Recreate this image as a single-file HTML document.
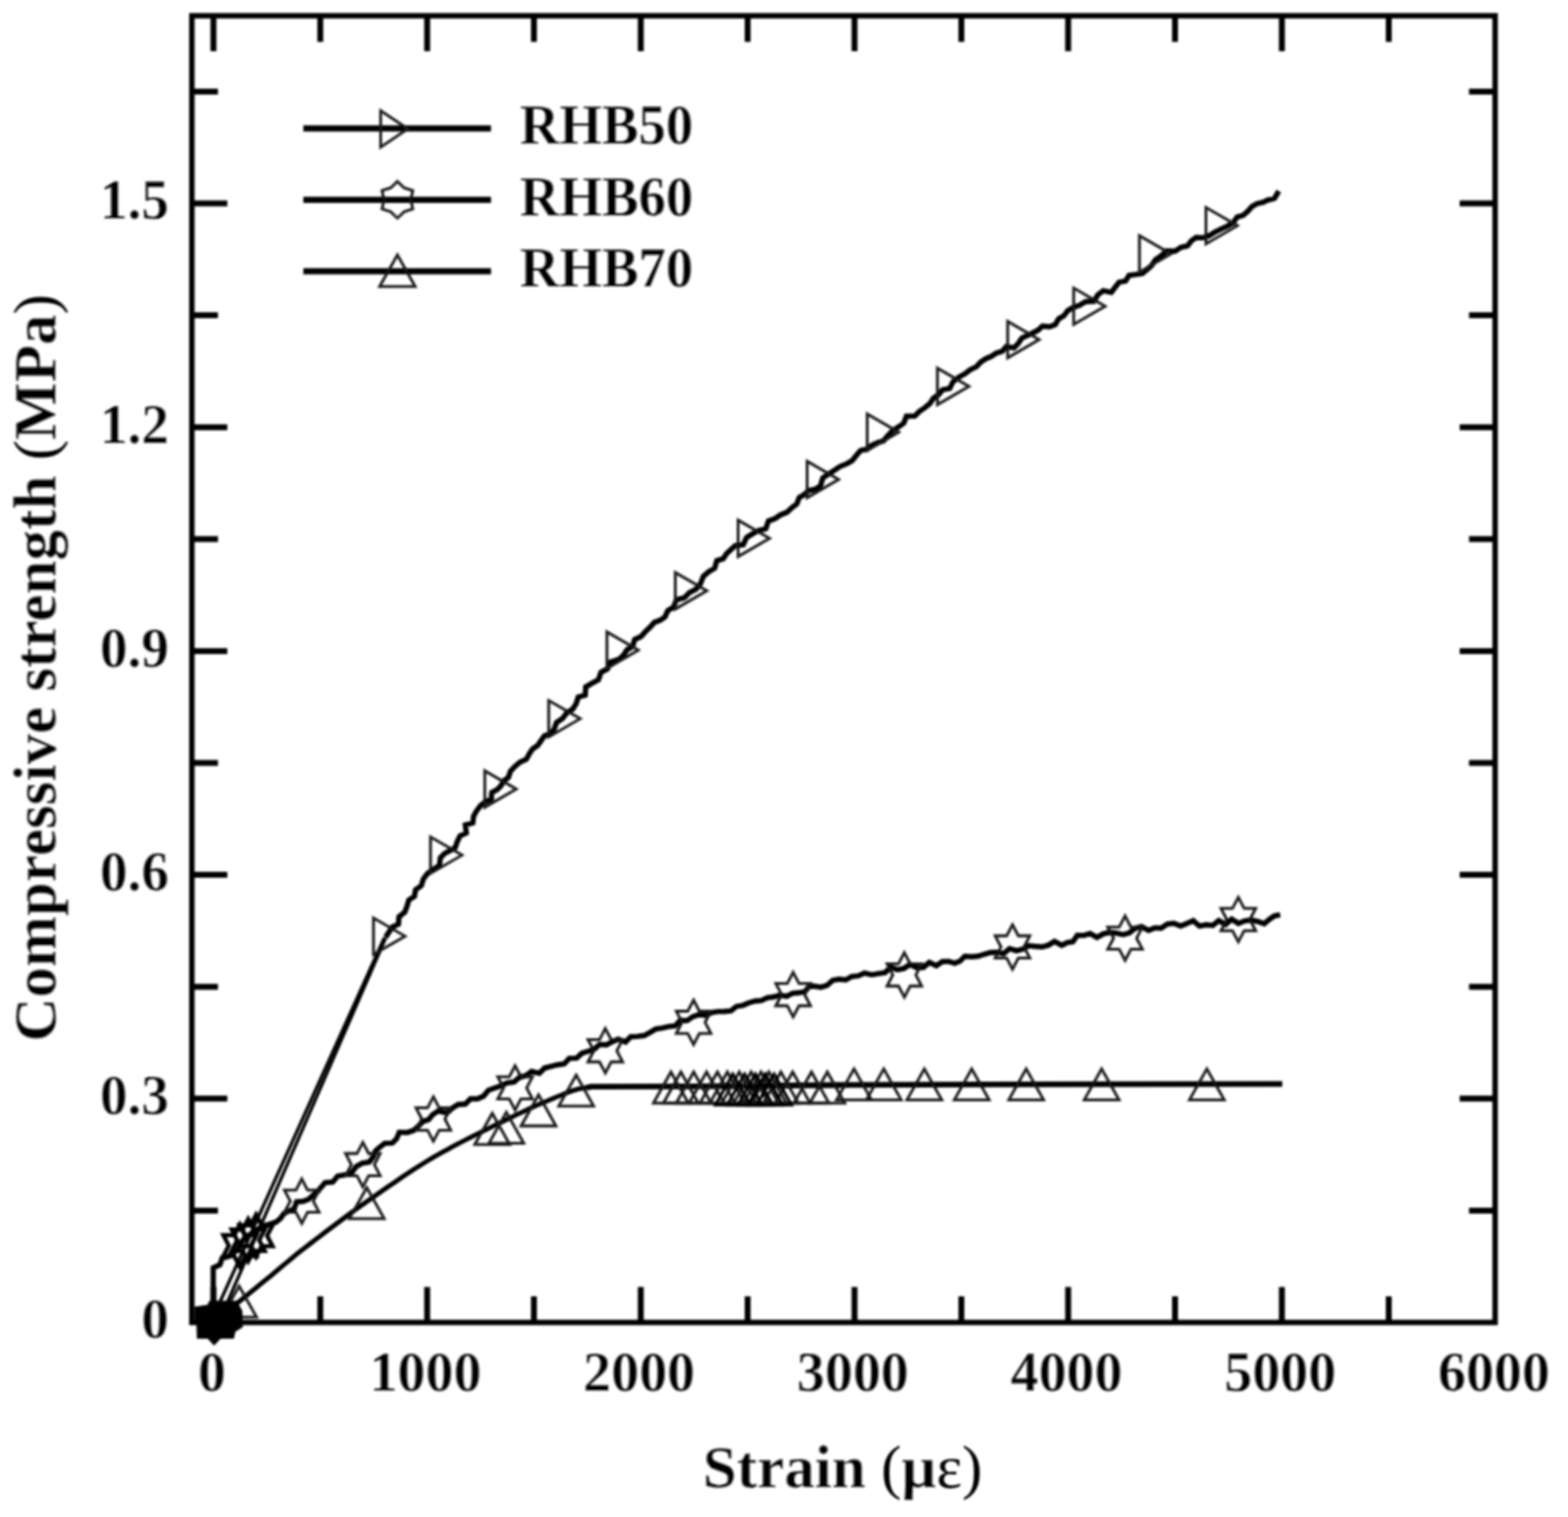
<!DOCTYPE html>
<html lang="en"><head><meta charset="utf-8"><title>Compressive strength vs strain</title>
<style>html,body{margin:0;padding:0;background:#fff}body{width:1592px;height:1540px;overflow:hidden}svg{display:block}text{font-family:"Liberation Serif","DejaVu Serif",serif;font-weight:bold;fill:#000;stroke:#fff;stroke-width:0.25px;paint-order:fill stroke}</style></head><body>
<svg width="1592" height="1540" viewBox="0 0 1592 1540">
<defs><filter id="bl" x="-2%" y="-2%" width="104%" height="104%"><feGaussianBlur stdDeviation="1.1"/></filter></defs>
<rect width="1592" height="1540" fill="#fff"/>
<g filter="url(#bl)">
<text x="527.8" y="146.2" font-size="57" textLength="176" lengthAdjust="spacingAndGlyphs">RHB50</text>
<text x="527.8" y="218.7" font-size="57" textLength="176" lengthAdjust="spacingAndGlyphs">RHB60</text>
<text x="527.8" y="291.2" font-size="57" textLength="176" lengthAdjust="spacingAndGlyphs">RHB70</text>
<text x="215.2" y="1412" font-size="56.8" text-anchor="middle">0</text>
<text x="432.0" y="1412" font-size="56.8" text-anchor="middle">1000</text>
<text x="648.9" y="1412" font-size="56.8" text-anchor="middle">2000</text>
<text x="865.9" y="1412" font-size="56.8" text-anchor="middle">3000</text>
<text x="1082.8" y="1412" font-size="56.8" text-anchor="middle">4000</text>
<text x="1299.8" y="1412" font-size="56.8" text-anchor="middle">5000</text>
<text x="1516.8" y="1412" font-size="56.8" text-anchor="middle">6000</text>
<text x="171.5" y="1358.3" font-size="56" text-anchor="end">0</text>
<text x="171.5" y="1131.1" font-size="56" text-anchor="end">0.3</text>
<text x="171.5" y="903.9" font-size="56" text-anchor="end">0.6</text>
<text x="171.5" y="676.7" font-size="56" text-anchor="end">0.9</text>
<text x="171.5" y="449.5" font-size="56" text-anchor="end">1.2</text>
<text x="171.5" y="222.3" font-size="56" text-anchor="end">1.5</text>
<text x="855.5" y="1509.5" font-size="62" text-anchor="middle">Strain <tspan font-weight="normal" stroke="none">(</tspan>µ<tspan font-weight="normal" stroke="none">ε)</tspan></text>
<text transform="translate(56.3 678) rotate(-90)" font-size="62" text-anchor="middle">Compressive strength <tspan font-weight="normal" stroke="none">(</tspan>MPa<tspan font-weight="normal" stroke="none">)</tspan></text>
<rect x="194.8" y="16.0" width="1323.2" height="1326.5" stroke="#000" stroke-width="5.5" fill="none"/>
<g stroke="#000" stroke-width="6.0" fill="none">
<path d="M216.7 1342.5 v-36.0 M216.7 16.0 v36.0"/>
<path d="M325.2 1342.5 v-26.5 M325.2 16.0 v26.5"/>
<path d="M433.7 1342.5 v-36.0 M433.7 16.0 v36.0"/>
<path d="M542.1 1342.5 v-26.5 M542.1 16.0 v26.5"/>
<path d="M650.6 1342.5 v-36.0 M650.6 16.0 v36.0"/>
<path d="M759.1 1342.5 v-26.5 M759.1 16.0 v26.5"/>
<path d="M867.6 1342.5 v-36.0 M867.6 16.0 v36.0"/>
<path d="M976.1 1342.5 v-26.5 M976.1 16.0 v26.5"/>
<path d="M1084.5 1342.5 v-36.0 M1084.5 16.0 v36.0"/>
<path d="M1193.0 1342.5 v-26.5 M1193.0 16.0 v26.5"/>
<path d="M1301.5 1342.5 v-36.0 M1301.5 16.0 v36.0"/>
<path d="M1410.0 1342.5 v-26.5 M1410.0 16.0 v26.5"/>
<path d="M194.8 1228.9 h26.5 M1518.0 1228.9 h-26.5"/>
<path d="M194.8 1115.3 h36.0 M1518.0 1115.3 h-36.0"/>
<path d="M194.8 1001.7 h26.5 M1518.0 1001.7 h-26.5"/>
<path d="M194.8 888.1 h36.0 M1518.0 888.1 h-36.0"/>
<path d="M194.8 774.5 h26.5 M1518.0 774.5 h-26.5"/>
<path d="M194.8 660.9 h36.0 M1518.0 660.9 h-36.0"/>
<path d="M194.8 547.3 h26.5 M1518.0 547.3 h-26.5"/>
<path d="M194.8 433.7 h36.0 M1518.0 433.7 h-36.0"/>
<path d="M194.8 320.1 h26.5 M1518.0 320.1 h-26.5"/>
<path d="M194.8 206.5 h36.0 M1518.0 206.5 h-36.0"/>
<path d="M194.8 92.9 h26.5 M1518.0 92.9 h-26.5"/>
</g>
<g fill="none" stroke="#000" stroke-linejoin="miter" stroke-linecap="butt">
<path stroke-width="3.3" d="M214 1342.5 L390.2 952"/>
<path stroke-width="3.3" d="M222 1342.5 L391.6 952"/>
<path stroke-width="5.4" d="M391.5 951.5 L394.9 946.3 L398.3 941.1 L404.5 938.2 L405.1 930.7 L410.9 926.1 L413.3 919.8 L415.1 913.6 L420.7 910.0 L421.9 903.3 L427.7 899.1 L429.9 892.2 L434.1 886.6 L440.0 882.4 L446.2 878.6 L447.1 870.8 L451.5 866.4 L457.1 863.5 L462.3 860.2 L464.3 854.2 L467.1 848.6 L473.4 845.7 L472.5 837.4 L480.0 835.3 L480.9 828.3 L484.0 822.9 L487.8 818.0 L492.6 814.0 L498.8 811.3 L499.4 804.5 L504.8 801.6 L508.7 797.6 L511.5 792.5 L516.2 789.2 L518.3 782.9 L522.7 778.2 L527.9 773.8 L534.4 770.8 L537.4 765.2 L540.8 760.3 L545.9 756.8 L549.3 751.9 L552.7 746.9 L559.0 744.7 L562.7 740.1 L565.0 733.6 L571.0 729.6 L575.4 723.8 L581.6 719.7 L585.1 714.1 L587.1 707.7 L594.2 705.6 L594.7 697.4 L601.0 693.6 L607.6 690.1 L610.2 682.5 L616.8 679.0 L620.0 672.0 L627.7 669.7 L633.0 665.2 L636.7 659.6 L642.3 656.2 L644.4 649.2 L650.8 646.2 L655.4 641.1 L660.2 636.5 L664.3 631.9 L670.3 629.6 L675.2 626.2 L678.0 619.9 L683.9 616.2 L686.9 608.8 L694.8 606.8 L699.9 601.6 L706.7 598.1 L711.3 592.4 L714.1 585.1 L719.5 580.5 L725.6 576.7 L727.8 569.2 L734.3 567.1 L737.7 562.0 L742.0 558.0 L746.6 553.8 L754.6 552.9 L758.0 545.6 L764.1 541.9 L770.2 538.5 L777.5 536.8 L780.2 528.9 L786.8 526.5 L792.4 522.7 L798.9 520.1 L803.8 515.5 L809.0 511.6 L811.5 505.1 L816.6 502.0 L820.9 498.0 L827.6 496.7 L833.0 493.2 L835.4 485.3 L841.0 481.4 L847.0 477.6 L852.9 473.6 L859.5 470.9 L865.2 467.7 L869.3 462.5 L873.6 457.5 L880.2 455.9 L885.1 452.1 L890.7 449.5 L896.9 447.7 L901.0 442.7 L905.9 437.6 L912.0 433.6 L917.6 429.6 L920.4 422.5 L928.8 422.3 L933.5 417.5 L939.0 413.9 L943.9 409.9 L947.7 404.3 L952.9 400.7 L957.0 395.7 L964.2 394.4 L967.7 387.4 L973.4 383.0 L979.6 379.6 L985.1 375.3 L991.3 372.4 L995.7 367.6 L1000.8 364.2 L1006.4 361.8 L1011.5 358.5 L1017.5 356.7 L1021.6 351.8 L1029.5 353.1 L1033.9 348.6 L1037.6 343.1 L1043.1 340.6 L1048.6 338.0 L1053.9 335.2 L1058.4 331.0 L1065.7 331.8 L1071.4 329.5 L1075.0 323.6 L1080.2 320.5 L1084.1 315.3 L1089.4 312.2 L1095.8 310.1 L1102.3 306.2 L1110.6 305.8 L1114.9 299.0 L1120.2 295.1 L1128.4 296.8 L1132.3 291.5 L1136.3 286.4 L1142.7 285.3 L1146.3 279.5 L1153.1 278.7 L1159.8 277.6 L1164.6 273.6 L1169.3 269.4 L1173.1 263.6 L1178.9 259.8 L1184.5 254.7 L1193.0 255.0 L1199.2 251.0 L1205.7 249.6 L1209.6 244.4 L1214.5 241.1 L1221.4 241.4 L1227.3 239.5 L1233.1 235.9 L1239.5 232.6 L1246.0 229.6 L1252.0 226.1 L1256.1 220.3 L1262.2 218.6 L1266.8 214.6 L1271.1 209.7 L1276.3 206.7 L1282.2 205.5 L1287.2 203.1 L1293.9 201.4 L1298.4 194.0"/>
<path stroke-width="5.4" d="M216.5 1342.5 L216.5 1287.0 L223.2 1283.9 L225.7 1277.1 L232.0 1275.5 L236.6 1272.2 L241.5 1268.2 L244.5 1261.4 L249.2 1256.7 L254.7 1252.7 L260.7 1248.5 L267.0 1244.4 L274.2 1242.6 L280.3 1240.5 L284.8 1236.9 L288.3 1231.8 L293.6 1229.4 L298.8 1226.8 L301.1 1220.0 L307.8 1219.5 L313.3 1217.4 L317.6 1213.5 L322.2 1210.0 L325.9 1205.4 L330.1 1200.5 L337.9 1200.0 L342.8 1193.9 L350.5 1192.7 L357.2 1190.3 L361.8 1184.1 L367.7 1180.8 L374.8 1179.7 L378.7 1174.8 L381.3 1168.3 L385.9 1164.3 L390.7 1160.6 L398.2 1160.4 L402.5 1156.2 L405.4 1149.4 L413.3 1149.7 L420.0 1147.6 L425.1 1142.9 L429.6 1138.4 L435.1 1136.6 L439.3 1131.5 L445.0 1127.8 L453.8 1129.7 L459.2 1124.9 L465.2 1121.2 L472.4 1120.8 L477.6 1115.5 L484.8 1115.5 L491.0 1112.7 L495.9 1106.8 L502.3 1104.5 L508.7 1102.2 L514.8 1099.3 L521.9 1098.4 L527.4 1093.8 L534.0 1091.9 L539.7 1087.6 L547.6 1089.6 L552.8 1084.3 L559.2 1082.7 L565.8 1081.0 L572.9 1080.0 L578.0 1074.4 L585.5 1074.2 L590.8 1069.2 L597.1 1067.2 L603.4 1065.1 L608.8 1060.2 L615.8 1060.7 L621.7 1057.5 L627.7 1054.9 L635.2 1057.9 L640.4 1052.5 L647.2 1052.1 L654.0 1051.3 L659.9 1048.1 L665.8 1044.6 L672.4 1043.7 L678.8 1042.1 L685.5 1041.5 L690.6 1035.7 L697.7 1036.1 L703.3 1032.1 L709.7 1030.0 L716.8 1030.8 L722.7 1027.8 L729.0 1026.9 L735.6 1026.8 L742.1 1026.2 L747.7 1021.7 L754.3 1020.6 L760.3 1018.0 L766.6 1016.2 L773.2 1015.7 L779.1 1012.9 L785.5 1012.0 L791.8 1010.2 L798.7 1011.4 L804.6 1008.4 L811.2 1007.8 L817.3 1006.6 L821.8 1001.1 L827.5 1001.3 L833.6 1002.2 L839.6 1000.4 L845.4 995.2 L851.9 994.0 L858.7 994.8 L864.7 991.3 L871.4 990.7 L877.7 987.9 L885.2 989.6 L891.9 988.4 L898.5 987.5 L904.2 982.0 L911.3 984.4 L917.8 983.1 L923.9 979.0 L931.0 982.5 L937.6 982.1 L943.5 976.9 L950.6 980.4 L956.7 976.2 L963.0 975.9 L969.3 977.8 L974.6 975.8 L979.6 970.7 L986.2 971.3 L992.8 970.8 L999.1 968.8 L1005.5 967.0 L1012.1 966.7 L1019.0 968.1 L1025.0 963.0 L1032.0 965.2 L1038.4 963.5 L1044.5 960.0 L1051.3 960.7 L1058.2 961.3 L1064.6 959.4 L1070.6 955.6 L1078.0 959.7 L1083.6 956.8 L1089.3 956.0 L1093.8 949.5 L1100.4 949.6 L1106.8 947.7 L1113.7 951.7 L1120.0 948.1 L1126.3 946.6 L1133.1 947.2 L1140.2 948.8 L1146.6 947.0 L1152.5 942.4 L1159.0 940.6 L1166.1 944.5 L1172.4 941.9 L1179.0 942.2 L1185.2 938.0 L1191.7 937.2 L1198.7 940.0 L1205.0 937.4 L1211.5 934.7 L1217.9 940.2 L1224.6 938.8 L1231.3 939.5 L1237.4 934.6 L1244.4 938.5 L1250.5 933.2 L1257.4 937.4 L1263.8 934.8 L1270.4 934.1 L1276.9 935.4 L1283.6 937.7 L1289.2 932.9 L1293.8 929.9 L1299.8 928.6"/>
<path stroke-width="4.8" d="M216.7 1342.5 L221.5 1338.6 L226.2 1334.8 L231.0 1330.9 L235.7 1327.1 L240.5 1323.2 L245.3 1319.3 L250.1 1315.4 L255.0 1311.4 L260.0 1307.3 L265.0 1303.2 L270.0 1299.2 L275.0 1295.1 L280.0 1290.9 L285.0 1286.7 L290.0 1282.5 L295.0 1278.3 L300.0 1274.2 L305.0 1270.2 L310.0 1266.3 L315.0 1262.5 L320.0 1258.7 L325.0 1254.8 L330.0 1251.0 L335.0 1247.3 L340.0 1243.5 L345.0 1239.8 L350.0 1236.0 L355.0 1232.3 L360.0 1228.6 L365.0 1225.0 L370.0 1221.5 L375.0 1218.0 L380.0 1214.5 L385.0 1211.0 L390.0 1207.5 L395.0 1204.1 L400.0 1200.7 L405.0 1197.2 L410.0 1193.8 L415.0 1190.5 L419.9 1187.2 L424.7 1184.2 L429.5 1181.2 L434.3 1178.3 L439.1 1175.4 L444.1 1172.5 L449.2 1169.6 L454.5 1166.8 L459.7 1163.9 L465.0 1161.2 L470.1 1158.5 L475.2 1155.9 L480.2 1153.4 L485.3 1150.8 L490.3 1148.3 L495.3 1145.8 L500.3 1143.4 L505.4 1140.9 L510.4 1138.5 L515.4 1136.0 L520.4 1133.6 L525.4 1131.2 L530.5 1128.8 L535.5 1126.4 L540.5 1124.1 L545.5 1121.9 L550.5 1119.8 L555.6 1117.6 L560.6 1115.5 L565.6 1113.4 L570.6 1111.4 L575.7 1109.3 L580.9 1107.4 L586.7 1105.7 L593.1 1104.3 L600.0 1103.2"/>
<path stroke-width="5.8" d="M596.0 1104.3 L600.0 1103.2 L700.0 1102.8 L850.0 1101.5 L1000.0 1100.8 L1301.9 1100.4"/>
</g>
<g fill="none" stroke="#161616" stroke-width="2.8" stroke-linejoin="miter">
<path d="M379.2 931.9 L411.2 950.4 L379.2 968.9 Z"/>
<path d="M437.1 849.6 L469.1 868.1 L437.1 886.6 Z"/>
<path d="M492.2 782.5 L524.2 801.0 L492.2 819.5 Z"/>
<path d="M557.1 711.1 L589.1 729.6 L557.1 748.1 Z"/>
<path d="M616.2 641.5 L648.2 660.0 L616.2 678.5 Z"/>
<path d="M685.7 581.2 L717.7 599.7 L685.7 618.2 Z"/>
<path d="M749.4 528.0 L781.4 546.5 L749.4 565.0 Z"/>
<path d="M819.5 468.3 L851.5 486.8 L819.5 505.3 Z"/>
<path d="M880.5 420.2 L912.5 438.7 L880.5 457.2 Z"/>
<path d="M951.8 373.8 L983.8 392.3 L951.8 410.8 Z"/>
<path d="M1023.1 326.2 L1055.1 344.7 L1023.1 363.2 Z"/>
<path d="M1090.1 292.4 L1122.1 310.9 L1090.1 329.4 Z"/>
<path d="M1156.9 239.2 L1188.9 257.7 L1156.9 276.2 Z"/>
<path d="M1224.4 210.6 L1256.4 229.1 L1224.4 247.6 Z"/>
<path d="M306.4 1196.8 L312.3 1208.1 L324.0 1208.1 L318.1 1219.4 L324.0 1230.7 L312.3 1230.7 L306.4 1242.0 L300.5 1230.7 L288.8 1230.7 L294.7 1219.4 L288.8 1208.1 L300.5 1208.1 Z"/>
<path d="M368.4 1159.7 L374.3 1171.0 L386.0 1171.0 L380.1 1182.3 L386.0 1193.6 L374.3 1193.6 L368.4 1204.9 L362.5 1193.6 L350.8 1193.6 L356.7 1182.3 L350.8 1171.0 L362.5 1171.0 Z"/>
<path d="M440.0 1113.4 L445.9 1124.7 L457.6 1124.7 L451.7 1136.0 L457.6 1147.3 L445.9 1147.3 L440.0 1158.6 L434.1 1147.3 L422.4 1147.3 L428.3 1136.0 L422.4 1124.7 L434.1 1124.7 Z"/>
<path d="M523.0 1081.8 L528.9 1093.1 L540.6 1093.1 L534.7 1104.4 L540.6 1115.7 L528.9 1115.7 L523.0 1127.0 L517.1 1115.7 L505.4 1115.7 L511.3 1104.4 L505.4 1093.1 L517.1 1093.1 Z"/>
<path d="M614.6 1044.1 L620.5 1055.4 L632.2 1055.4 L626.3 1066.7 L632.2 1078.0 L620.5 1078.0 L614.6 1089.3 L608.7 1078.0 L597.0 1078.0 L602.9 1066.7 L597.0 1055.4 L608.7 1055.4 Z"/>
<path d="M704.2 1015.2 L710.1 1026.5 L721.8 1026.5 L715.9 1037.8 L721.8 1049.1 L710.1 1049.1 L704.2 1060.4 L698.3 1049.1 L686.6 1049.1 L692.5 1037.8 L686.6 1026.5 L698.3 1026.5 Z"/>
<path d="M805.3 987.1 L811.2 998.4 L822.9 998.4 L817.0 1009.7 L822.9 1021.0 L811.2 1021.0 L805.3 1032.3 L799.4 1021.0 L787.7 1021.0 L793.6 1009.7 L787.7 998.4 L799.4 998.4 Z"/>
<path d="M918.2 967.1 L924.1 978.4 L935.8 978.4 L929.9 989.7 L935.8 1001.0 L924.1 1001.0 L918.2 1012.3 L912.3 1001.0 L900.6 1001.0 L906.5 989.7 L900.6 978.4 L912.3 978.4 Z"/>
<path d="M1028.0 938.7 L1033.9 950.0 L1045.6 950.0 L1039.7 961.3 L1045.6 972.6 L1033.9 972.6 L1028.0 983.9 L1022.1 972.6 L1010.4 972.6 L1016.3 961.3 L1010.4 950.0 L1022.1 950.0 Z"/>
<path d="M1142.3 929.8 L1148.2 941.1 L1159.9 941.1 L1154.0 952.4 L1159.9 963.7 L1148.2 963.7 L1142.3 975.0 L1136.4 963.7 L1124.7 963.7 L1130.6 952.4 L1124.7 941.1 L1136.4 941.1 Z"/>
<path d="M1257.3 910.9 L1263.2 922.2 L1274.9 922.2 L1269.0 933.5 L1274.9 944.8 L1263.2 944.8 L1257.3 956.1 L1251.4 944.8 L1239.7 944.8 L1245.6 933.5 L1239.7 922.2 L1251.4 922.2 Z"/>
<path d="M225.1 1337.1 L242.8 1305.5 L260.5 1337.1 Z"/>
<path d="M354.7 1237.1 L372.4 1205.5 L390.1 1237.1 Z"/>
<path d="M482.1 1161.8 L499.8 1130.2 L517.5 1161.8 Z"/>
<path d="M496.4 1160.6 L514.1 1129.0 L531.8 1160.6 Z"/>
<path d="M529.1 1143.0 L546.8 1111.4 L564.5 1143.0 Z"/>
<path d="M567.3 1122.9 L585.0 1091.3 L602.7 1122.9 Z"/>
<path d="M663.5 1119.8 L681.2 1088.2 L698.9 1119.8 Z"/>
<path d="M673.6 1119.8 L691.3 1088.2 L709.0 1119.8 Z"/>
<path d="M686.6 1119.8 L704.3 1088.2 L722.0 1119.8 Z"/>
<path d="M699.7 1119.8 L717.4 1088.2 L735.1 1119.8 Z"/>
<path d="M710.7 1119.8 L728.4 1088.2 L746.1 1119.8 Z"/>
<path d="M720.8 1119.8 L738.5 1088.2 L756.2 1119.8 Z"/>
<path d="M732.9 1119.8 L750.6 1088.2 L768.3 1119.8 Z"/>
<path d="M744.9 1119.8 L762.6 1088.2 L780.3 1119.8 Z"/>
<path d="M755.0 1119.8 L772.7 1088.2 L790.4 1119.8 Z"/>
<path d="M763.0 1119.8 L780.7 1088.2 L798.4 1119.8 Z"/>
<path d="M775.1 1119.8 L792.8 1088.2 L810.5 1119.8 Z"/>
<path d="M787.1 1119.8 L804.8 1088.2 L822.5 1119.8 Z"/>
<path d="M806.2 1119.8 L823.9 1088.2 L841.6 1119.8 Z"/>
<path d="M822.3 1119.8 L840.0 1088.2 L857.7 1119.8 Z"/>
<path d="M849.4 1116.6 L867.1 1085.0 L884.8 1116.6 Z"/>
<path d="M879.6 1116.6 L897.3 1085.0 L915.0 1116.6 Z"/>
<path d="M920.8 1116.6 L938.5 1085.0 L956.2 1116.6 Z"/>
<path d="M968.9 1116.6 L986.6 1085.0 L1004.3 1116.6 Z"/>
<path d="M1024.2 1116.6 L1041.9 1085.0 L1059.6 1116.6 Z"/>
<path d="M1100.8 1116.6 L1118.5 1085.0 L1136.2 1116.6 Z"/>
<path d="M1207.6 1116.6 L1225.3 1085.0 L1243.0 1116.6 Z"/>
</g>
<g fill="none" stroke="#000" stroke-width="3.0" stroke-linejoin="miter">
<path d="M726.3 1121.8 L744.0 1090.2 L761.7 1121.8 Z"/>
<path d="M738.3 1121.8 L756.0 1090.2 L773.7 1121.8 Z"/>
<path d="M749.3 1121.8 L767.0 1090.2 L784.7 1121.8 Z"/>
<path d="M759.3 1121.8 L777.0 1090.2 L794.7 1121.8 Z"/>
<path d="M768.3 1121.8 L786.0 1090.2 L803.7 1121.8 Z"/>
</g>
<g fill="none" stroke="#000" stroke-width="4.2" stroke-linejoin="miter">
<path d="M243.5 1243.0 L249.1 1253.8 L260.3 1253.8 L254.7 1264.5 L260.3 1275.2 L249.1 1275.2 L243.5 1286.0 L237.9 1275.2 L226.7 1275.2 L232.3 1264.5 L226.7 1253.8 L237.9 1253.8 Z"/>
<path d="M252.0 1237.5 L257.6 1248.2 L268.8 1248.2 L263.2 1259.0 L268.8 1269.8 L257.6 1269.8 L252.0 1280.5 L246.4 1269.8 L235.2 1269.8 L240.8 1259.0 L235.2 1248.2 L246.4 1248.2 Z"/>
<path d="M260.0 1233.0 L265.6 1243.8 L276.8 1243.8 L271.2 1254.5 L276.8 1265.2 L265.6 1265.2 L260.0 1276.0 L254.4 1265.2 L243.2 1265.2 L248.8 1254.5 L243.2 1243.8 L254.4 1243.8 Z"/>
</g>
<g fill="#000" stroke="#000" stroke-width="3" stroke-linejoin="miter">
<path stroke-width="1.2" d="M198 1327 L211 1325 L213 1321 L240 1321 L245.5 1331 L246 1347 L238.5 1351.5 L237 1358.5 L223.5 1358.5 L217.4 1365 L211.3 1358.5 L200.5 1358.5 L200 1345 L198 1344 Z"/>
</g>
<g stroke="#000" stroke-width="6.2" fill="none">
<path d="M308 130.3 H498.5"/>
<path d="M308 202.8 H498.5"/>
<path d="M308 275.4 H498.5"/>
</g>
<g fill="none" stroke="#161616" stroke-width="2.8" stroke-linejoin="miter">
<path d="M386.5 112.3 L414.0 130.8 L386.5 149.3 Z"/>
<path d="M403.5 184.2 L410.3 190.7 L419.1 193.5 L417.1 202.8 L419.1 212.1 L410.3 214.9 L403.5 221.4 L396.7 214.9 L387.9 212.1 L389.9 202.8 L387.9 193.5 L396.7 190.7 Z"/>
<path d="M385.5 290.8 L403.5 258.8 L421.5 290.8 Z"/>
</g>
</g>
</svg></body></html>
